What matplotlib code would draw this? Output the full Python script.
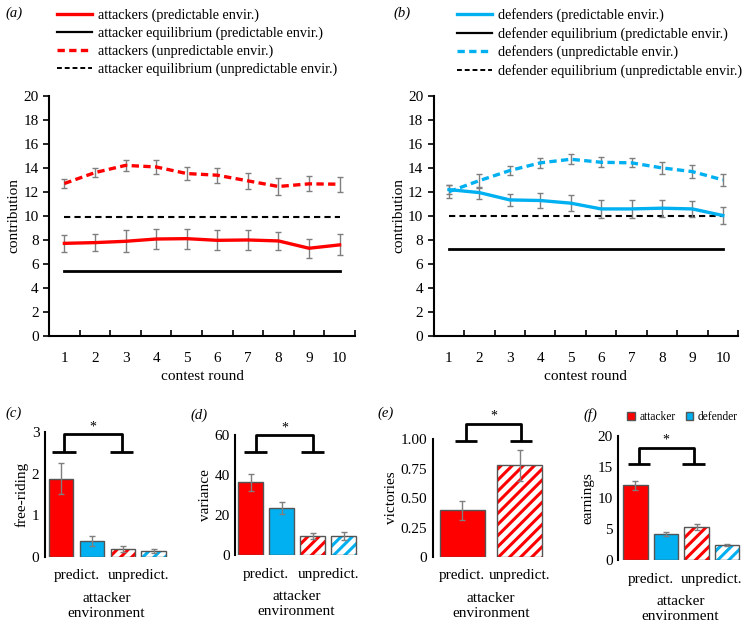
import numpy as np
import matplotlib
matplotlib.use("Agg")
import matplotlib.pyplot as plt
from matplotlib.lines import Line2D
from matplotlib.patches import Patch

plt.rcParams['font.family'] = ['Liberation Serif', 'DejaVu Serif']
plt.rcParams['font.size'] = 10
plt.rcParams['hatch.linewidth'] = 2.2

RED = '#FF0000'
BLUE = '#00B0F0'
GREY = '#7F7F7F'

rounds = np.arange(1, 11)

# panel a - attackers
att_pred = [7.71, 7.77, 7.88, 8.07, 8.10, 7.96, 7.99, 7.91, 7.30, 7.58]
att_pred_err = [0.70, 0.74, 0.91, 0.84, 0.83, 0.84, 0.85, 0.77, 0.79, 0.88]
att_unpred = [12.70, 13.61, 14.21, 14.08, 13.53, 13.39, 12.92, 12.45, 12.67, 12.64]
att_unpred_err = [0.39, 0.41, 0.45, 0.55, 0.52, 0.62, 0.66, 0.69, 0.62, 0.61]
att_eq_pred = 5.4
att_eq_unpred = 9.92

# panel b - defenders
def_pred = [12.19, 11.94, 11.33, 11.28, 11.06, 10.58, 10.58, 10.64, 10.58, 10.03]
def_pred_err = [0.35, 0.50, 0.50, 0.64, 0.65, 0.72, 0.75, 0.71, 0.68, 0.68]
def_unpred = [12.02, 12.94, 13.78, 14.42, 14.72, 14.47, 14.42, 14.00, 13.69, 13.00]
def_unpred_err = [0.56, 0.58, 0.38, 0.43, 0.40, 0.40, 0.38, 0.50, 0.53, 0.50]
def_eq_pred = 7.25
def_eq_unpred = 10.03

# bar panels: attacker predict, defender predict, attacker unpredict, defender unpredict
freeriding = [1.88, 0.38, 0.19, 0.14]
freeriding_err = [0.38, 0.12, 0.08, 0.05]
variance = [36.3, 23.5, 9.7, 9.5]
variance_err = [4.4, 3.0, 1.5, 1.9]
victories = [0.395, 0.778]
victories_err = [0.077, 0.13]
earnings = [12.1, 4.18, 5.33, 2.45]
earnings_err = [0.73, 0.35, 0.5, 0.2]

W, H = 744, 623
fig = plt.figure(figsize=(W / 100, H / 100), dpi=100)


def line_panel(rect, pred, pred_err, unpred, unpred_err, eq_pred, eq_unpred, col, letter, names, leg_x, lab_x):
    ax = fig.add_axes(rect)
    ekw = dict(ecolor=GREY, elinewidth=1.0, capsize=2.5, capthick=1.0)
    ax.errorbar(rounds, pred, yerr=pred_err, color=col, lw=2.4, **ekw, zorder=3)
    ax.errorbar(rounds, unpred, yerr=unpred_err, color=col, lw=2.4, ls=(0, (2.2, 1.3)), **ekw, zorder=3)
    ax.plot([1, 10], [eq_pred, eq_pred], color='black', lw=2.0, zorder=2)
    ax.plot([1, 10], [eq_unpred, eq_unpred], color='black', lw=1.5, ls=(0, (3, 2)), zorder=2)
    ax.set_xlim(0.5, 10.5)
    ax.set_ylim(0, 20)
    ax.set_yticks(np.arange(0, 21, 2))
    ax.set_xticks(rounds)
    ax.set_xticks(np.arange(0.5, 11, 1), minor=True)
    ax.tick_params(axis='x', which='major', length=0, pad=12, labelsize=11)
    ax.tick_params(axis='x', which='minor', direction='in', length=4, width=1.2)
    ax.tick_params(axis='y', length=4, width=1.2, labelsize=11)
    for s in ['top', 'right']:
        ax.spines[s].set_visible(False)
    for s in ['left', 'bottom']:
        ax.spines[s].set_linewidth(1.5)
    ax.set_xlabel('contest round', fontsize=11, labelpad=3)
    ax.set_ylabel('contribution', fontsize=11, labelpad=2)
    handles = [Line2D([], [], color=col, lw=2.4),
               Line2D([], [], color='black', lw=1.6),
               Line2D([], [], color=col, lw=2.4, ls=(0, (2.2, 1.3))),
               Line2D([], [], color='black', lw=1.4, ls=(0, (2.5, 1.5)))]
    fig.legend(handles, names, loc='upper left', bbox_to_anchor=(leg_x / W, 1 - 2.5 / H),
               bbox_transform=fig.transFigure, frameon=False,
               fontsize=10.2, handlelength=2.5, handletextpad=0.4, labelspacing=0.33, borderaxespad=0)
    fig.text(lab_x / W, 1 - 13 / H, '(' + letter + ')', fontsize=10.5, style='italic', va='center')
    return ax


line_panel([0.066, 0.461, 0.411, 0.385], att_pred, att_pred_err, att_unpred, att_unpred_err,
           att_eq_pred, att_eq_unpred, RED, 'a',
           ['attackers (predictable envir.)', 'attacker equilibrium (predictable envir.)',
            'attackers (unpredictable envir.)', 'attacker equilibrium (unpredictable envir.)'], 51, 5)
line_panel([0.583, 0.461, 0.409, 0.385], def_pred, def_pred_err, def_unpred, def_unpred_err,
           def_eq_pred, def_eq_unpred, BLUE, 'b',
           ['defenders (predictable envir.)', 'defender equilibrium (predictable envir.)',
            'defenders (unpredictable envir.)', 'defender equilibrium (unpredictable envir.)'], 451, 393)


def bar_panel(rect, vals, errs, ylim, yticks, yticklabels, ylabel, letter, lab_xy, bracket, xlim):
    ax = fig.add_axes(rect)
    n = len(vals)
    x = np.arange(n)
    if n == 4:
        cols = [RED, BLUE, RED, BLUE]
        hatched = [False, False, True, True]
        width = 0.8
    else:
        cols = [RED, RED]
        hatched = [False, True]
        width = 0.78
    for i in range(n):
        if hatched[i]:
            ax.bar(x[i], vals[i], width, color='white', edgecolor=cols[i], hatch='///', lw=0, zorder=2)
            ax.bar(x[i], vals[i], width, fill=False, edgecolor='#555555', lw=1.0, zorder=3)
        else:
            ax.bar(x[i], vals[i], width, color=cols[i], edgecolor='#555555', lw=1.0, zorder=2)
    ax.errorbar(x, vals, yerr=errs, fmt='none', ecolor=GREY, elinewidth=1.0, capsize=2.5, capthick=1.0, zorder=4)
    ax.set_xlim(*xlim)
    ax.set_ylim(*ylim)
    ax.set_yticks(yticks)
    ax.set_yticklabels(yticklabels)
    if n == 4:
        ax.set_xticks([0.5, 2.5])
    else:
        ax.set_xticks([0, 1])
    ax.set_xticklabels(['predict.', 'unpredict.'])
    ax.tick_params(length=0, labelsize=11, pad=4)
    ax.tick_params(axis='x', pad=9)
    for s in ['top', 'right', 'bottom']:
        ax.spines[s].set_visible(False)
    ax.spines['left'].set_linewidth(1.5)
    ax.set_ylabel(ylabel, fontsize=11, labelpad=2)
    ax.set_xlabel('attacker\nenvironment', fontsize=11, labelpad=7, linespacing=1.15)
    # significance bracket
    l, r, fw, top, foot = bracket
    kw = dict(color='black', lw=2.0, clip_on=False, solid_capstyle='butt')
    ax.plot([l, l, r, r], [foot, top, top, foot], **kw)
    ax.plot([l - fw, l + fw], [foot, foot], **kw)
    ax.plot([r - fw, r + fw], [foot, foot], **kw)
    ax.text((l + r) / 2, top + (ylim[1] - ylim[0]) * 0.01, '*', ha='center', va='bottom', fontsize=10, clip_on=False)
    fig.text(lab_xy[0] / W, 1 - lab_xy[1] / H, '(' + letter + ')', fontsize=10.5, style='italic', va='center')
    return ax


bar_panel([0.0605, 0.106, 0.165, 0.2006], freeriding, freeriding_err, (0, 3), [0, 1, 2, 3],
          ['0', '1', '2', '3'], 'free-riding', 'c', (5, 413), (0.1, 1.96, 0.38, 2.94, 2.52), (-0.52, 3.45))
bar_panel([0.316, 0.109, 0.165, 0.193], variance, variance_err, (0, 60), [0, 20, 40, 60],
          ['0', '20', '40', '60'], 'variance', 'd', (190, 415), (0.17, 2.0, 0.37, 59.7, 51.3), (-0.5, 3.45))
bar_panel([0.582, 0.106, 0.155, 0.189], victories, victories_err, (0, 1), [0, 0.25, 0.5, 0.75, 1.0],
          ['0', '0.25', '0.50', '0.75', '1.00'], 'victories', 'e', (377, 413),
          (0.07, 1.03, 0.19, 1.128, 0.983), (-0.51, 1.5))
axf = bar_panel([0.831, 0.101, 0.167, 0.1986], earnings, earnings_err, (0, 20), [0, 5, 10, 15, 20],
                ['0', '5', '10', '15', '20'], 'earnings', 'f', (583, 415),
                (0.12, 1.9, 0.37, 18.15, 15.5), (-0.56, 3.5))
fig.legend([Patch(facecolor=RED, edgecolor='#555555'), Patch(facecolor=BLUE, edgecolor='#555555')],
           ['attacker', 'defender'], loc='center right', bbox_to_anchor=(738 / W, 1 - 417 / H),
           bbox_transform=fig.transFigure, ncol=2, frameon=False,
           fontsize=8.3, handlelength=0.65, handleheight=0.65, handletextpad=0.4, columnspacing=0.9,
           borderaxespad=0, borderpad=0)

fig.savefig('out.png', dpi=100)
